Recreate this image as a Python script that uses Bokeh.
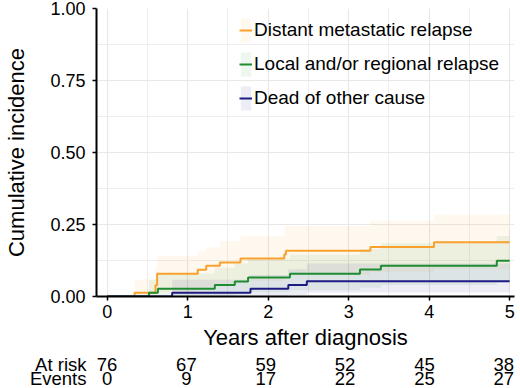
from bokeh.plotting import figure
from bokeh.layouts import column
from bokeh.models import (FixedTicker, PrintfTickFormatter, Legend, LegendItem,
                          Range1d, ColumnDataSource)
from bokeh.core.properties import value
from bokeh.embed import file_html
from bokeh.resources import INLINE

FONT = "Liberation Sans"

# Cumulative incidence step functions (time in years) with confidence bands
t_dist = [0, 0.34, 0.60, 0.62, 1.125, 1.23, 1.40, 1.656, 2.20, 2.22, 3.27, 4.06, 5.0]
ci_dist = [0, 0.013, 0.039, 0.079, 0.093, 0.107, 0.118, 0.132, 0.146, 0.159, 0.172, 0.188, 0.188]
lo_dist = [0, 0, 0, 0.015, 0.025, 0.035, 0.045, 0.055, 0.065, 0.075, 0.085, 0.095, 0.095]
hi_dist = [0, 0.058, 0.10, 0.141, 0.159, 0.17, 0.193, 0.21, 0.242, 0.245, 0.263, 0.284, 0.284]

t_loc = [0, 0.52, 0.63, 1.337, 1.585, 1.75, 2.27, 3.14, 3.40, 4.84, 5.0]
ci_loc = [0, 0.013, 0.027, 0.040, 0.052, 0.066, 0.079, 0.094, 0.107, 0.124, 0.124]
lo_loc = [0, 0, 0, 0.003, 0.008, 0.015, 0.022, 0.03, 0.04, 0.05, 0.05]
hi_loc = [0, 0.058, 0.08, 0.10, 0.115, 0.13, 0.145, 0.165, 0.185, 0.21, 0.21]

t_oth = [0, 0.807, 1.78, 2.25, 2.48, 5.0]
ci_oth = [0, 0.013, 0.027, 0.040, 0.053, 0.053]
lo_oth = [0, 0, 0, 0.005, 0.014, 0.014]
hi_oth = [0, 0.058, 0.075, 0.095, 0.115, 0.115]

series_names = ["Distant metastatic relapse", "Local and/or regional relapse", "Dead of other cause"]
colors = ["#F9A12C", "#1E8C32", "#1C1C84"]

# Risk table
risk_years = [0, 1, 2, 3, 4, 5]
at_risk = [76, 67, 59, 52, 45, 38]
events = [0, 9, 17, 22, 25, 27]
row_names = ["At risk", "Events"]

x_ticks = [0, 1, 2, 3, 4, 5]
y_ticks = [0, 0.25, 0.5, 0.75, 1.0]

X0, X1 = -0.133, 5.06

p = figure(width=520, height=352, output_backend="svg", toolbar_location=None,
           x_range=Range1d(X0, X1), y_range=Range1d(0, 1),
           min_border_left=96, min_border_right=6, min_border_top=8,
           min_border_bottom=56, background_fill_color="white",
           border_fill_color="white", outline_line_color=None)

# axes
p.xaxis.ticker = FixedTicker(ticks=x_ticks, minor_ticks=[0.5, 1.5, 2.5, 3.5, 4.5])
p.yaxis.ticker = FixedTicker(ticks=y_ticks, minor_ticks=[0.125, 0.375, 0.625, 0.875])
p.yaxis.formatter = PrintfTickFormatter(format="%.2f")
for ax in (p.xaxis, p.yaxis):
    ax.axis_line_color = "black"
    ax.axis_line_width = 2
    ax.major_tick_line_color = "black"
    ax.major_tick_line_width = 1.5
    ax.major_tick_out = 4
    ax.major_tick_in = 0
    ax.minor_tick_line_color = None
    ax.major_label_text_font = FONT
    ax.major_label_text_font_size = "18px"
    ax.major_label_text_color = "black"
    ax.axis_label_text_font = FONT
    ax.axis_label_text_font_size = "22px"
    ax.axis_label_text_font_style = "normal"
    ax.axis_label_text_color = "black"
p.xaxis.axis_label = "Years after diagnosis"
p.yaxis.axis_label = "Cumulative incidence"
p.xaxis.major_label_standoff = 4
p.yaxis.major_label_standoff = 7
p.xaxis.axis_label_standoff = 4
p.yaxis.axis_label_standoff = 18

# grid
for g in (p.xgrid, p.ygrid):
    g.grid_line_color = "#e8e8e8"
    g.grid_line_width = 1.2
    g.minor_grid_line_color = "#eeeeee"
    g.minor_grid_line_width = 1

data = [
    (t_dist, ci_dist, lo_dist, hi_dist),
    (t_loc, ci_loc, lo_loc, hi_loc),
    (t_oth, ci_oth, lo_oth, hi_oth),
]

bands = []
for (t, ci, lo, hi), col in zip(data, colors):
    bands.append(p.varea_step(x=t, y1=lo, y2=hi, step_mode="after",
                              fill_color=col, fill_alpha=0.08))

lines = []
for (t, ci, lo, hi), col in zip(data, colors):
    lines.append(p.step(x=t, y=ci, mode="after", line_color=col, line_width=2))

legend = Legend(items=[LegendItem(label=n, renderers=[b, l])
                       for n, b, l in zip(series_names, bands, lines)],
                location=(143, 183), orientation="vertical",
                glyph_width=13, glyph_height=30, spacing=4, padding=0, margin=0,
                label_standoff=2, label_text_font=FONT, label_text_font_size="19px",
                label_text_color="black", background_fill_alpha=0,
                border_line_color=None, label_height=30)
p.add_layout(legend)

# numbers at risk / events table underneath, same year scale running to the edge
px_per_year = 418 / (X1 - X0)
row_y = [11.5, 26]
t = figure(width=520, height=36, output_backend="svg", toolbar_location=None,
           x_range=Range1d(X0, X1 + 6 / px_per_year), y_range=Range1d(36, 0),
           min_border_left=96, min_border_right=0, min_border_top=0,
           min_border_bottom=0, outline_line_color=None,
           background_fill_color="white", border_fill_color="white")
t.xaxis.visible = False
t.grid.visible = False
t.yaxis.ticker = FixedTicker(ticks=row_y)
t.yaxis.major_label_overrides = {ry: name for ry, name in zip(row_y, row_names)}
t.yaxis.axis_line_color = None
t.yaxis.major_tick_line_color = None
t.yaxis.minor_tick_line_color = None
t.yaxis.major_tick_out = 0
t.yaxis.major_label_standoff = 10
t.yaxis.major_label_text_font = FONT
t.yaxis.major_label_text_font_size = "18.5px"
t.yaxis.major_label_text_color = "black"

for ry, vals in zip(row_y, (at_risk, events)):
    src = ColumnDataSource(dict(x=risk_years, y=[ry] * len(risk_years),
                                txt=[str(v) for v in vals]))
    t.text(x="x", y="y", text="txt", source=src, text_font=value(FONT),
           text_font_size="18.5px", text_baseline="middle", text_align="center",
           text_color="black")

layout = column(p, t, spacing=0)
open("out.html", "w").write(file_html(layout, INLINE))
